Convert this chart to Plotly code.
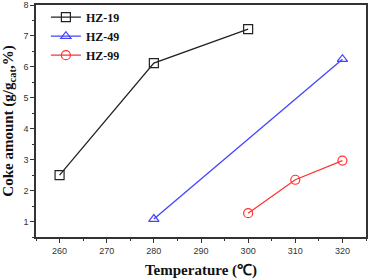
import plotly.graph_objects as go

hz19_x = [260, 280, 300]
hz19_y = [2.5, 6.12, 7.22]
hz49_x = [280, 320]
hz49_y = [1.08, 6.25]
hz99_x = [300, 310, 320]
hz99_y = [1.27, 2.35, 2.97]

fig = go.Figure()
series = [
    ("HZ-19", hz19_x, hz19_y, "#222222", "square-open"),
    ("HZ-49", hz49_x, hz49_y, "#4444ff", "triangle-up-open"),
    ("HZ-99", hz99_x, hz99_y, "#ff3333", "circle-open"),
]
for name, x, y, c, sym in series:
    fig.add_trace(go.Scatter(x=x, y=y, name=name, mode="lines+markers",
                             line=dict(color=c, width=1.3),
                             marker=dict(symbol=sym, size=9, color=c, line=dict(width=1.2, color=c))))

axis_common = dict(showline=True, linecolor="#333333", linewidth=1.5, mirror=True,
                   ticks="outside", ticklen=4, tickcolor="#333333", showgrid=False, zeroline=False,
                   automargin=False,
                   tickfont=dict(family="Liberation Sans, Arial", size=9, color="#333333"))

title_font = dict(family="Liberation Serif, Times New Roman", size=15, color="#111111", weight="bold")

fig.update_layout(
    width=369, height=279, template="none",
    paper_bgcolor="white", plot_bgcolor="white",
    margin=dict(l=36, r=3, t=5, b=42),
    showlegend=True,
    legend=dict(x=0.03, y=1.01, xanchor="left", yanchor="top", bgcolor="rgba(0,0,0,0)",
                font=dict(family="Liberation Serif, Times New Roman", size=12, color="#111111", weight="bold"),
                tracegroupgap=0, itemwidth=30),
    xaxis=dict(range=[255, 325], dtick=10, tick0=260,
               minor=dict(ticks="outside", ticklen=2, tickcolor="#333333", dtick=5),
               title=dict(text="Temperature (℃)", font=title_font),
               **axis_common),
    yaxis=dict(range=[0.5, 8], dtick=1, tick0=1,
               minor=dict(ticks="outside", ticklen=2, tickcolor="#333333", dtick=0.5),
               title=dict(text="Coke amount (g/g<sub>cat</sub>,%)", font=title_font),
               **axis_common),
)
fig.write_html("out.html", config={"displayModeBar": False},
               post_script="document.body.style.margin='0';document.body.style.overflow='hidden';")
